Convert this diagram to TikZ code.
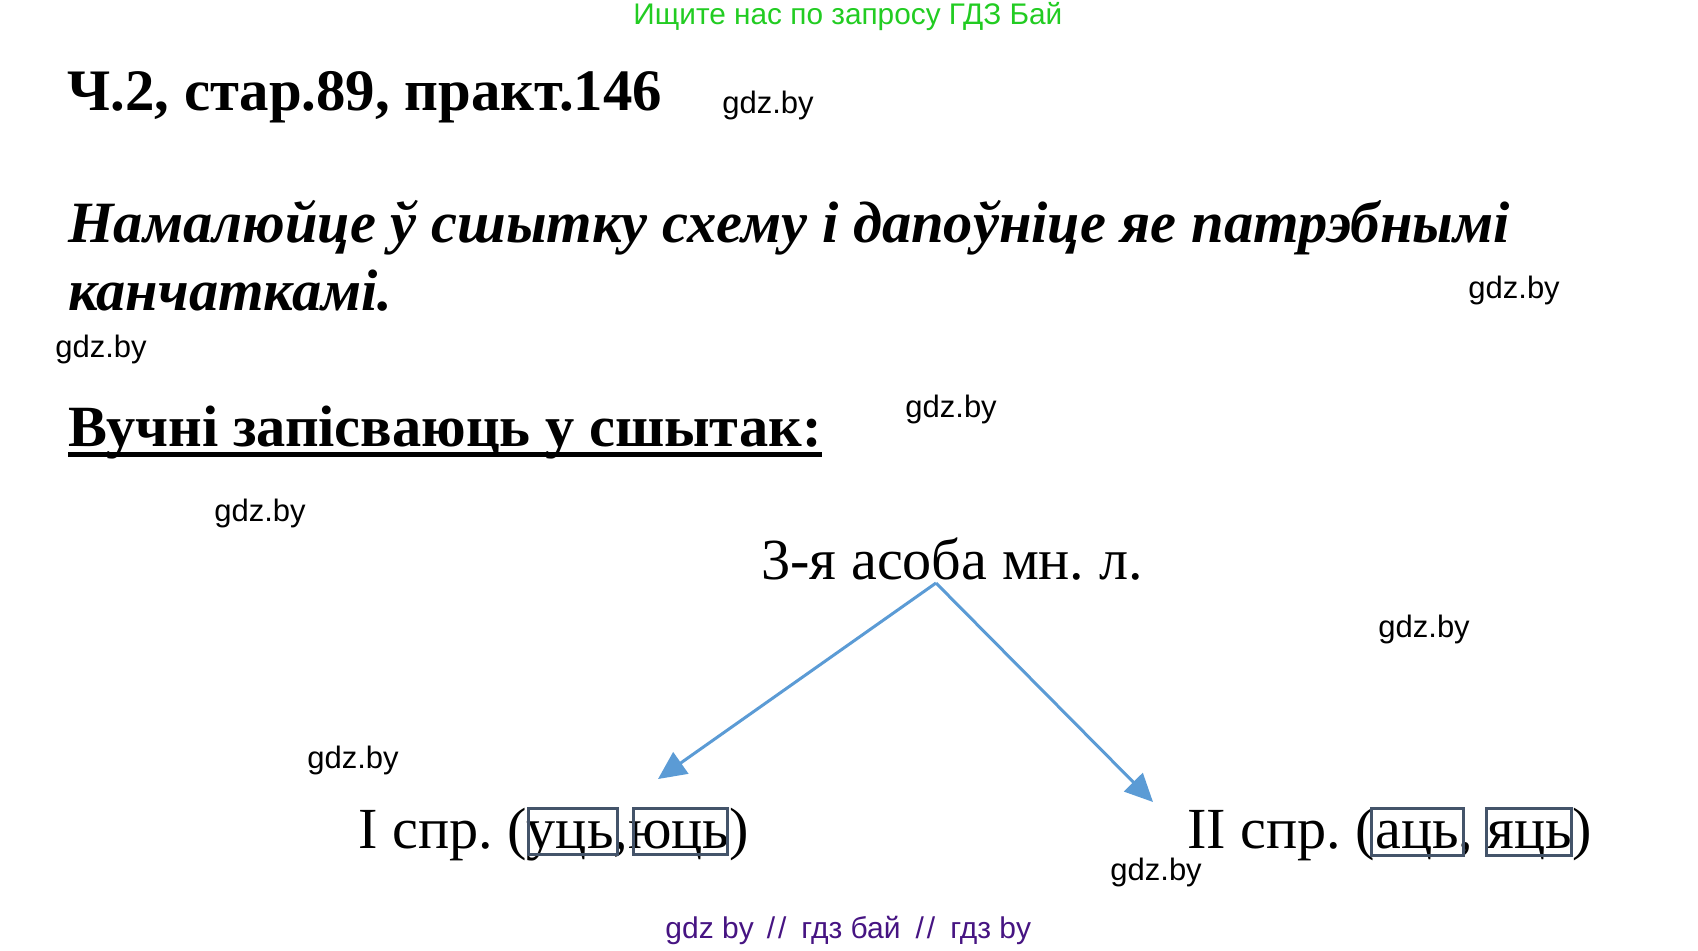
\documentclass[tikz,border=0pt]{standalone}
\usepackage{fontspec}
\setmainfont{Liberation Serif}
\setsansfont{Liberation Sans}
\usetikzlibrary{arrows.meta}
\definecolor{gdzgreen}{RGB}{34,204,34}
\definecolor{gdzpurple}{RGB}{70,20,130}
\definecolor{arrblue}{RGB}{91,155,213}
\definecolor{boxgray}{RGB}{68,84,106}
\frenchspacing
\begin{document}
\begin{tikzpicture}[x=0.5pt,y=-0.5pt,
  txt/.style={anchor=base west,inner sep=0pt},
  wm/.style={txt,font=\sffamily\fontsize{15.5pt}{18pt}\selectfont},
  scheme/.style={txt,font=\fontsize{29.1pt}{35pt}\selectfont},
  arr/.style={draw=arrblue,line width=1.5pt,-{Triangle[length=14pt,width=13pt]}},
  endbox/.style={draw=boxgray,line width=1.5pt}]

\useasboundingbox (0,0) rectangle (1698,950);

% top line
\node[txt,text=gdzgreen,font=\sffamily\fontsize{14.9pt}{17pt}\selectfont] (search) at (633,24) {Ищите нас по запросу ГДЗ Бай};

% heading
\node[txt,font=\bfseries\fontsize{29.4pt}{36pt}\selectfont] (title) at (67,110) {Ч.2, стар.89, практ.146};

% task
\node[txt,font=\bfseries\itshape\fontsize{29.25pt}{34pt}\selectfont] (task1) at (68,242) {Намалюйце ў сшытку схему і дапоўніце яе патрэбнымі};
\node[txt,font=\bfseries\itshape\fontsize{29.25pt}{34pt}\selectfont] (task2) at (68,310) {канчаткамі.};

% pupils write
\node[txt,font=\bfseries\fontsize{29.2pt}{36pt}\selectfont] (pupils) at (68,446) {Вучні запісваюць у сшытак:};
\draw[line width=2.5pt] ([yshift=-4pt]pupils.base west) -- ([yshift=-4pt]pupils.base east);

% scheme
\node[scheme] (person) at (761,579) {3-я асоба мн. л.};
\node[scheme] (conj1) at (358,848) {I спр. (уць,юць)};
\node[scheme] (conj2) at (1187,848) {II спр. (аць, яць)};

    % endings
\draw[endbox] (528,808) rectangle (617,854);
\draw[endbox] (633,808) rectangle (727,854);
\draw[endbox] (1371,808) rectangle (1463,855);
\draw[endbox] (1486,808) rectangle (1571,855);

    % arrows
\coordinate (fork) at (936,583);
\coordinate (end1) at (658,779);
\coordinate (end2) at (1153,802);
\draw[arr] (fork) -- (end1);
\draw[arr] (fork) -- (end2);

% watermarks
\foreach \x/\y [count=\i] in {722/113,1468/298,55/357,905/417,214/521,1378/637,307/768,1110/880}
  \node[wm] (wm\i) at (\x,\y) {gdz.by};

% footer
\node[txt,text=gdzpurple,font=\sffamily\fontsize{15pt}{17pt}\selectfont] (footer) at (665,938) {gdz by\hspace{6.5pt}/\hspace{1.5pt}/\hspace{7.5pt}гдз бай\hspace{7.5pt}/\hspace{1.5pt}/\hspace{7.5pt}гдз by};
\end{tikzpicture}
\end{document}
